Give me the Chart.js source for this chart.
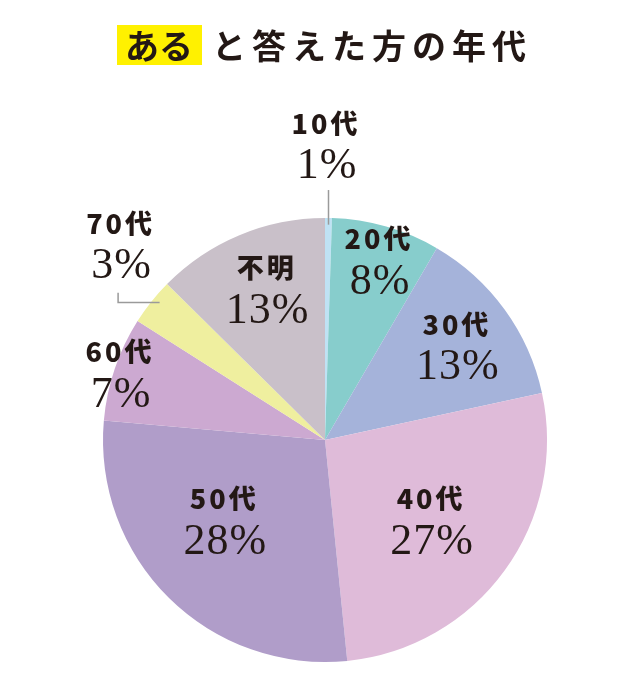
<!DOCTYPE html>
<html><head>
<meta charset="UTF-8">
<title>あると答えた方の年代</title>
<script src="https://cdn.jsdelivr.net/npm/chart.js"></script>
<style>
    body { margin: 0; background: #fff; }
    #wrap { position: relative; width: 630px; height: 685px; }
    #myChart { position: absolute; left: 0; top: 0; }
    #title {
        position: absolute; left: 117px; top: 25px;
        font-family: 'Noto Sans CJK JP', sans-serif; font-weight: 700;
        font-size: 34px; letter-spacing: 6px; color: #231815;
        line-height: 40px; white-space: nowrap;
    }
    #title .hl { display: inline-block; background: #fff100; padding: 0 0 0 8px; margin-right: 10px; letter-spacing: 0; width: 77px; }
</style>
</head>
<body>
<div id="wrap">
    <canvas id="myChart" width="630" height="685"></canvas>
    <div id="title"><span class="hl">ある</span>と答えた方の年代</div>
</div>
<script>
// age groups, clockwise from 12 o'clock
const categories = ['10代', '20代', '30代', '40代', '50代', '60代', '70代', '不明'];
// slice sizes (%)
const shares = [0.5, 7.9, 13.2, 26.8, 28, 7.6, 3.4, 12.6];
// percentages as printed on the chart
const printed = ['1%', '8%', '13%', '27%', '28%', '7%', '3%', '13%'];
const colors = ['#bfe2f4', '#87cdcc', '#a5b3da', '#dfbbd9', '#b09dc9', '#cca9d1', '#efef9f', '#c9c0c9'];

// label placement: distance from centre (fraction of radius) and angle nudge (deg)
const labelDist = [1.33, 0.845, 0.727, 0.595, 0.583, 0.976, 1.276, 0.73];
const labelNudge = [-0.9, 0.4, 0.2, 1.3, 7.2, -0.7, 5, 1.2];

const TEXT = '#231815';

const labelPlugin = {
    id: 'sliceLabels',
    afterDraw(chart) {
        const ctx = chart.ctx;
        const arcs = chart.getDatasetMeta(0).data;
        const cx = arcs[0].x, cy = arcs[0].y, r = arcs[0].outerRadius;
        ctx.save();

        // leader lines for the two outside labels
        ctx.strokeStyle = '#9a9a9a';
        ctx.lineWidth = 1.5;
        ctx.beginPath();
        ctx.moveTo(cx + 3.5, cy - r * 1.126);
        ctx.lineTo(cx + 3.5, cy - r * 0.97);
        ctx.stroke();
        ctx.beginPath();
        ctx.moveTo(cx - r * 0.932, cy - r * 0.663);
        ctx.lineTo(cx - r * 0.932, cy - r * 0.619);
        ctx.lineTo(cx - r * 0.745, cy - r * 0.619);
        ctx.stroke();

        ctx.textAlign = 'center';
        ctx.textBaseline = 'middle';
        ctx.fillStyle = TEXT;
        arcs.forEach((arc, i) => {
            const mid = (arc.startAngle + arc.endAngle) / 2 + labelNudge[i] * Math.PI / 180;
            const d = r * labelDist[i];
            const x = cx + Math.cos(mid) * d;
            const y = cy + Math.sin(mid) * d;
            ctx.font = "900 27px 'Noto Sans CJK JP', sans-serif";
            ctx.letterSpacing = '3px';
            ctx.fillText(categories[i], x + 1, y - 21);
            ctx.font = "400 44px 'Liberation Serif', serif";
            ctx.letterSpacing = '1px';
            ctx.fillText(printed[i], x + 2, y + 22);
        });
        ctx.restore();
    }
};

const ctx = document.getElementById('myChart').getContext('2d');
new Chart(ctx, {
    type: 'pie',
    data: {
        labels: categories,
        datasets: [{
            data: shares,
            backgroundColor: colors,
            borderWidth: 0
        }]
    },
    options: {
        responsive: false,
        animation: false,
        layout: { padding: { left: 103, right: 83, top: 218, bottom: 23 } },
        plugins: {
            legend: { display: false },
            tooltip: { enabled: false }
        }
    },
    plugins: [labelPlugin]
});
</script>
</body></html>
